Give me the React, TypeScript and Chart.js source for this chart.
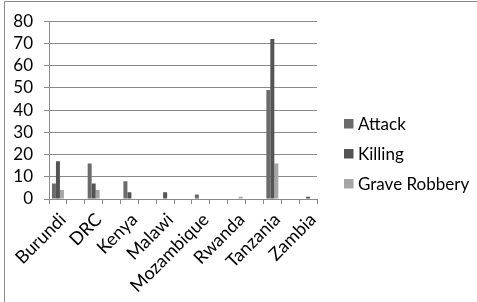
import React, { useEffect, useRef } from "react";
import { Chart, registerables } from "chart.js";

Chart.register(...registerables);

const categories = ["Burundi", "DRC", "Kenya", "Malawi", "Mozambique", "Rwanda", "Tanzania", "Zambia"];
const attack = [7, 16, 8, 0, 2, 0, 49, 0];
const killing = [17, 7, 3, 3, 0, 0, 72, 1];
const graveRobbery = [4, 4, 0, 0, 0, 1, 16, 0];
const seriesNames = ["Attack", "Killing", "Grave Robbery"];
const seriesColors = ["#6b6b6b", "#545454", "#a6a6a6"];
const yTicks = [0, 10, 20, 30, 40, 50, 60, 70, 80];

// The original chart has a blank category between each named one.
function spread<T>(arr: T[], blank: T): T[] {
  const out: T[] = [];
  arr.forEach((v, i) => {
    out.push(v);
    if (i < arr.length - 1) out.push(blank);
  });
  return out;
}

const FONT = "Lato, 'DejaVu Sans', sans-serif";

const frameAndLegend = {
  id: "frameAndLegend",
  afterDraw(chart: any) {
    const ctx = chart.ctx;
    ctx.save();
    ctx.strokeStyle = "#8a8a8a";
    ctx.lineWidth = 1;
    ctx.beginPath();
    ctx.moveTo(4.5, 302);
    ctx.lineTo(4.5, 1.5);
    ctx.lineTo(477, 1.5);
    ctx.stroke();
    // legend
    ctx.font = "17px " + FONT;
    ctx.textBaseline = "middle";
    ctx.textAlign = "left";
    const rowsY = [124, 154, 184];
    seriesNames.forEach((name, i) => {
      ctx.fillStyle = seriesColors[i];
      ctx.fillRect(344, rowsY[i] - 5, 9.5, 9.5);
      ctx.fillStyle = "#000";
      ctx.fillText(name, 358, rowsY[i] + 0.5);
    });
    ctx.restore();
  },
};

export default function App() {
  const ref = useRef<HTMLCanvasElement | null>(null);
  useEffect(() => {
    if (!ref.current) return;
    const labels = spread(categories, "");
    const data = [attack, killing, graveRobbery].map((s) => spread<number | null>(s, null));
    const chart = new Chart(ref.current, {
      type: "bar",
      data: {
        labels,
        datasets: seriesNames.map((name, i) => ({
          label: name,
          data: data[i],
          backgroundColor: seriesColors[i],
          borderWidth: 0,
          barPercentage: 1,
          categoryPercentage: 0.67,
        })),
      },
      options: {
        animation: false,
        responsive: false,
        events: [],
        layout: { padding: { left: 0, top: 20, right: 160, bottom: 0 } },
        plugins: { legend: { display: false }, tooltip: { enabled: false } },
        scales: {
          x: {
            offset: true,
            grid: {
              offset: true,
              drawOnChartArea: false,
              drawTicks: true,
              tickLength: 5,
              color: "#8a8a8a",
            },
            border: { display: true, color: "#8a8a8a" },
            ticks: {
              autoSkip: false,
              maxRotation: 45,
              minRotation: 45,
              padding: 5,
              labelOffset: 5,
              color: "#000",
              font: { family: FONT, size: 18 },
            },
            afterFit(scale: any) {
              scale.height = 103;
            },
          },
          y: {
            min: 0,
            max: 80,
            afterBuildTicks(scale: any) {
              scale.ticks = yTicks.map((v) => ({ value: v }));
            },
            grid: { color: "#8a8a8a", tickLength: 5, drawTicks: true },
            border: { display: true, color: "#8a8a8a" },
            ticks: {
              autoSkip: false,
              padding: 11,
              color: "#000",
              font: { family: FONT, size: 17 },
            },
            afterFit(scale: any) {
              scale.width = 49;
            },
          },
        },
      },
      plugins: [frameAndLegend],
    });
    return () => chart.destroy();
  }, []);
  return (
    <div style={{ position: "absolute", left: 0, top: 0, width: 477, height: 302, background: "#fff" }}>
      <canvas ref={ref} width={477} height={302} style={{ display: "block" }} />
    </div>
  );
}
